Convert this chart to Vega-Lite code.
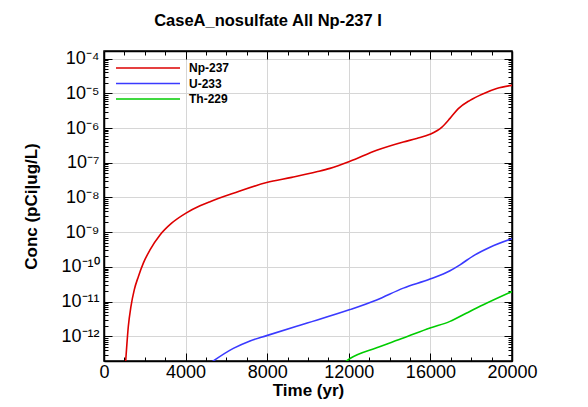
{
  "$schema": "https://vega.github.io/schema/vega-lite/v6.json",
  "width": 408,
  "height": 310,
  "autosize": {"type": "none"},
  "padding": {"left": 104, "top": 51, "right": 76, "bottom": 46},
  "background": "white",
  "config": {
    "font": "Liberation Sans",
    "view": {"stroke": "black", "strokeWidth": 1.5},
    "axis": {"domainColor": "black", "domainWidth": 1.5, "tickColor": "black", "tickWidth": 1, "labelColor": "black", "titleColor": "black", "labelFlush": false, "labelOverlap": false, "labelBound": false}
  },
  "title": {
    "text": "CaseA_nosulfate All Np-237 I",
    "fontSize": 16.5,
    "fontWeight": "bold",
    "color": "black",
    "anchor": "middle",
    "dx": -40,
    "offset": 20
  },
  "data": {
    "values": [
      {"t": 1030, "c": 1.1e-13, "s": "Np-237"},
      {"t": 1062, "c": 1.95e-13, "s": "Np-237"},
      {"t": 1193, "c": 1.95e-12, "s": "Np-237"},
      {"t": 1320, "c": 7.24e-12, "s": "Np-237"},
      {"t": 1483, "c": 2.19e-11, "s": "Np-237"},
      {"t": 1683, "c": 5.25e-11, "s": "Np-237"},
      {"t": 1928, "c": 1.29e-10, "s": "Np-237"},
      {"t": 2255, "c": 3.09e-10, "s": "Np-237"},
      {"t": 2745, "c": 8.32e-10, "s": "Np-237"},
      {"t": 3314, "c": 1.82e-9, "s": "Np-237"},
      {"t": 4020, "c": 3.55e-9, "s": "Np-237"},
      {"t": 4706, "c": 5.75e-9, "s": "Np-237"},
      {"t": 5196, "c": 7.59e-9, "s": "Np-237"},
      {"t": 6340, "c": 1.32e-8, "s": "Np-237"},
      {"t": 7974, "c": 2.69e-8, "s": "Np-237"},
      {"t": 9200, "c": 3.8e-8, "s": "Np-237"},
      {"t": 10425, "c": 5.5e-8, "s": "Np-237"},
      {"t": 11078, "c": 6.9e-8, "s": "Np-237"},
      {"t": 12059, "c": 1.1e-7, "s": "Np-237"},
      {"t": 13366, "c": 2.29e-7, "s": "Np-237"},
      {"t": 14673, "c": 3.98e-7, "s": "Np-237"},
      {"t": 15327, "c": 5.0e-7, "s": "Np-237"},
      {"t": 15980, "c": 6.6e-7, "s": "Np-237"},
      {"t": 16552, "c": 1.05e-6, "s": "Np-237"},
      {"t": 16961, "c": 1.9e-6, "s": "Np-237"},
      {"t": 17369, "c": 3.63e-6, "s": "Np-237"},
      {"t": 17941, "c": 6.3e-6, "s": "Np-237"},
      {"t": 18595, "c": 9.8e-6, "s": "Np-237"},
      {"t": 19248, "c": 1.38e-5, "s": "Np-237"},
      {"t": 20000, "c": 1.7e-5, "s": "Np-237"},
      {"t": 5000, "c": 1.4e-13, "s": "U-233"},
      {"t": 6340, "c": 4.5e-13, "s": "U-233"},
      {"t": 7157, "c": 7.4e-13, "s": "U-233"},
      {"t": 7974, "c": 1.05e-12, "s": "U-233"},
      {"t": 9608, "c": 2.1e-12, "s": "U-233"},
      {"t": 12059, "c": 5.9e-12, "s": "U-233"},
      {"t": 13366, "c": 1.12e-11, "s": "U-233"},
      {"t": 14673, "c": 2.45e-11, "s": "U-233"},
      {"t": 15980, "c": 4.47e-11, "s": "U-233"},
      {"t": 16961, "c": 7.8e-11, "s": "U-233"},
      {"t": 17451, "c": 1.15e-10, "s": "U-233"},
      {"t": 18105, "c": 2.09e-10, "s": "U-233"},
      {"t": 18921, "c": 3.7e-10, "s": "U-233"},
      {"t": 20000, "c": 6.5e-10, "s": "U-233"},
      {"t": 11500, "c": 1.3e-13, "s": "Th-229"},
      {"t": 12059, "c": 2.3e-13, "s": "Th-229"},
      {"t": 13366, "c": 4.7e-13, "s": "Th-229"},
      {"t": 14673, "c": 8.9e-13, "s": "Th-229"},
      {"t": 15980, "c": 1.74e-12, "s": "Th-229"},
      {"t": 16961, "c": 2.7e-12, "s": "Th-229"},
      {"t": 17778, "c": 4.7e-12, "s": "Th-229"},
      {"t": 18595, "c": 8.1e-12, "s": "Th-229"},
      {"t": 20000, "c": 1.95e-11, "s": "Th-229"}
    ]
  },
  "layer": [
    {
      "mark": {"type": "line", "clip": true, "strokeWidth": 1.6, "interpolate": "monotone"},
      "encoding": {
        "x": {
          "field": "t", "type": "quantitative",
          "scale": {"domain": [0, 20000], "nice": false, "zero": false},
          "axis": {
            "orient": "bottom",
            "title": "Time (yr)",
            "titleFontSize": 17, "titleFontWeight": "bold", "titlePadding": -3,
            "values": [0,1000,2000,3000,4000,5000,6000,7000,8000,9000,10000,11000,12000,13000,14000,15000,16000,17000,18000,19000,20000],
            "labelExpr": "datum.value % 4000 === 0 ? format(datum.value, 'd') : ''",
            "labelFontSize": 18, "labelPadding": 10,
            "tickSize": {"condition": {"test": "datum.value % 4000 === 0", "value": -8}, "value": -4},
            "grid": true,
            "gridColor": "#d6d6d6", "gridWidth": 1,
            "gridOpacity": {"condition": {"test": "datum.value % 4000 === 0", "value": 1}, "value": 0}
          }
        },
        "y": {
          "field": "c", "type": "quantitative",
          "scale": {"type": "log", "domain": [1.95e-13, 1.66e-4], "nice": false},
          "axis": {
            "orient": "left",
            "title": "Conc (pCi|ug/L)",
            "titleFontSize": 17, "titleFontWeight": "bold", "titlePadding": 20,
            "values": [2e-13,3e-13,4e-13,5e-13,6e-13,7e-13,8e-13,9e-13,1e-12,2e-12,3e-12,4e-12,5e-12,6e-12,7e-12,8e-12,9e-12,1e-11,2e-11,3e-11,4e-11,5e-11,6e-11,7e-11,8e-11,9e-11,1e-10,2e-10,3e-10,4e-10,5e-10,6e-10,7e-10,8e-10,9e-10,1e-9,2e-9,3e-9,4e-9,5e-9,6e-9,7e-9,8e-9,9e-9,1e-8,2e-8,3e-8,4e-8,5e-8,6e-8,7e-8,8e-8,9e-8,1e-7,2e-7,3e-7,4e-7,5e-7,6e-7,7e-7,8e-7,9e-7,1e-6,2e-6,3e-6,4e-6,5e-6,6e-6,7e-6,8e-6,9e-6,1e-5,2e-5,3e-5,4e-5,5e-5,6e-5,7e-5,8e-5,9e-5,1e-4],
            "labelExpr": "abs(log(datum.value)/LN10 - round(log(datum.value)/LN10)) < 0.01 ? '10⁻' + (round(-log(datum.value)/LN10) >= 10 ? '¹' + substring('⁰¹²³⁴⁵⁶⁷⁸⁹', round(-log(datum.value)/LN10) - 10, round(-log(datum.value)/LN10) - 9) : substring('⁰¹²³⁴⁵⁶⁷⁸⁹', round(-log(datum.value)/LN10), round(-log(datum.value)/LN10) + 1)) : ''",
            "labelFontSize": 18, "labelPadding": 13,
            "tickSize": {"condition": {"test": "abs(log(datum.value)/LN10 - round(log(datum.value)/LN10)) < 0.01", "value": -8}, "value": -4},
            "grid": true,
            "gridColor": "#d6d6d6", "gridWidth": 1,
            "gridOpacity": {"condition": {"test": "abs(log(datum.value)/LN10 - round(log(datum.value)/LN10)) < 0.01", "value": 1}, "value": 0}
          }
        },
        "color": {
          "field": "s", "type": "nominal",
          "scale": {"domain": ["Np-237", "U-233", "Th-229"], "range": ["#dd0000", "#3a3aff", "#00cc00"]},
          "legend": {
            "title": null,
            "orient": "none",
            "legendX": 11,
            "legendY": 8,
            "padding": 0,
            "symbolType": "M-1,0L7,0",
            "symbolSize": 256,
            "symbolStrokeWidth": 1.6,
            "labelFontSize": 12,
            "labelFontWeight": "bold",
            "labelColor": "black",
            "labelOffset": 56,
            "rowPadding": 0.5
          }
        }
      }
    },
    {
      "mark": {"type": "line", "clip": true, "strokeOpacity": 0},
      "encoding": {
        "x": {
          "field": "t", "type": "quantitative",
          "axis": {
            "orient": "top", "title": null, "labels": false, "grid": false,
            "values": [0,1000,2000,3000,4000,5000,6000,7000,8000,9000,10000,11000,12000,13000,14000,15000,16000,17000,18000,19000,20000],
            "tickSize": {"condition": {"test": "datum.value % 4000 === 0", "value": -8}, "value": -4}
          }
        },
        "y": {
          "field": "c", "type": "quantitative",
          "axis": {
            "orient": "right", "title": null, "labels": false, "grid": false,
            "values": [2e-13,3e-13,4e-13,5e-13,6e-13,7e-13,8e-13,9e-13,1e-12,2e-12,3e-12,4e-12,5e-12,6e-12,7e-12,8e-12,9e-12,1e-11,2e-11,3e-11,4e-11,5e-11,6e-11,7e-11,8e-11,9e-11,1e-10,2e-10,3e-10,4e-10,5e-10,6e-10,7e-10,8e-10,9e-10,1e-9,2e-9,3e-9,4e-9,5e-9,6e-9,7e-9,8e-9,9e-9,1e-8,2e-8,3e-8,4e-8,5e-8,6e-8,7e-8,8e-8,9e-8,1e-7,2e-7,3e-7,4e-7,5e-7,6e-7,7e-7,8e-7,9e-7,1e-6,2e-6,3e-6,4e-6,5e-6,6e-6,7e-6,8e-6,9e-6,1e-5,2e-5,3e-5,4e-5,5e-5,6e-5,7e-5,8e-5,9e-5,1e-4],
            "tickSize": {"condition": {"test": "abs(log(datum.value)/LN10 - round(log(datum.value)/LN10)) < 0.01", "value": -8}, "value": -4}
          }
        }
      }
    }
  ],
  "resolve": {"axis": {"x": "independent", "y": "independent"}}
}
